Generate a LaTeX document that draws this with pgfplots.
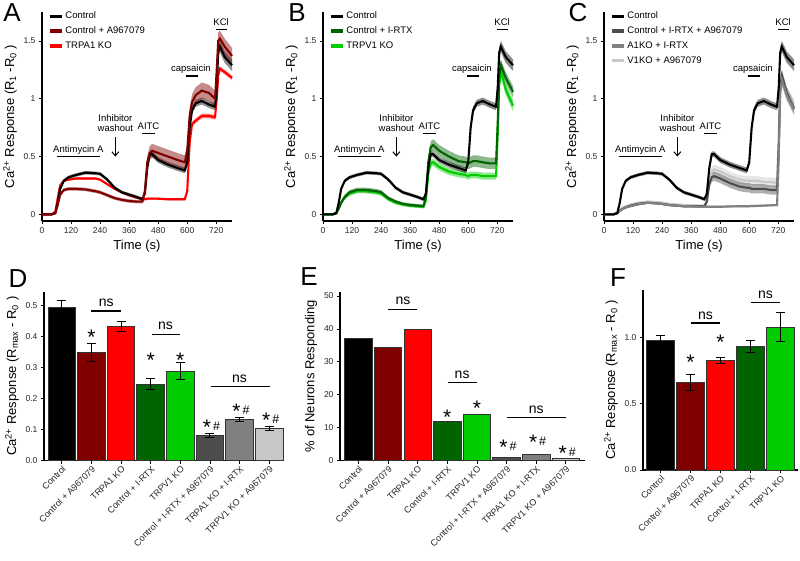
\documentclass[border=0pt]{standalone}
\usepackage{fontspec}
\setmainfont{Liberation Sans}
\usepackage{pgfplots}
\usepackage{pgfplotstable}
\pgfplotsset{compat=1.18}
\usepgfplotslibrary{fillbetween}
\usetikzlibrary{arrows.meta}

\definecolor{maroon}{RGB}{128,0,0}
\definecolor{dkgreen}{RGB}{0,100,0}
\definecolor{ltgreen}{RGB}{0,204,0}
\definecolor{gA}{RGB}{77,77,77}
\definecolor{gB}{RGB}{128,128,128}
\definecolor{gC}{RGB}{200,200,200}

\newcommand{\fs}[1]{\fontsize{#1}{#1}\selectfont}
\newcommand{\st}{{\fs{21}*}}
\newcommand{\sh}{{\fs{21}*\hspace{2pt}\raisebox{4pt}{\fs{12.5}\#}}}

% control trace (shared by A, B, C): mean and sem
\pgfplotstableread{
t c ce
0 0.00 0.01
40 0.00 0.01
55 0.01 0.01
65 0.10 0.01
75 0.22 0.015
90 0.29 0.015
110 0.32 0.015
140 0.34 0.015
180 0.36 0.015
220 0.355 0.015
240 0.35 0.015
270 0.30 0.015
300 0.23 0.015
330 0.19 0.015
360 0.17 0.015
390 0.15 0.015
415 0.13 0.015
425 0.18 0.015
435 0.40 0.02
445 0.52 0.025
455 0.52 0.025
480 0.47 0.025
520 0.43 0.025
560 0.40 0.025
590 0.38 0.025
600 0.45 0.025
610 0.75 0.03
620 0.90 0.03
635 0.96 0.03
660 0.98 0.03
690 0.95 0.03
715 0.93 0.03
722 1.10 0.04
728 1.40 0.05
735 1.45 0.05
755 1.36 0.05
785 1.29 0.05
}\ctrl

% panel A: Control + A967079 (a), TRPA1 KO (k)
\pgfplotstableread{
t a ae k ke
0 0.00 0.01 0.00 0.01
40 0.00 0.01 0.00 0.01
55 0.01 0.01 0.02 0.01
65 0.08 0.01 0.14 0.01
75 0.17 0.015 0.25 0.01
90 0.21 0.015 0.29 0.01
110 0.22 0.015 0.30 0.01
140 0.22 0.015 0.31 0.01
180 0.215 0.015 0.31 0.01
220 0.20 0.015 0.31 0.01
240 0.19 0.015 0.30 0.01
270 0.165 0.015 0.26 0.01
300 0.14 0.015 0.22 0.01
330 0.125 0.015 0.19 0.01
360 0.115 0.015 0.165 0.01
390 0.11 0.015 0.145 0.01
415 0.11 0.015 0.135 0.01
425 0.20 0.03 0.13 0.01
435 0.45 0.05 0.135 0.01
445 0.53 0.06 0.135 0.01
455 0.55 0.06 0.135 0.01
480 0.53 0.06 0.135 0.01
520 0.50 0.06 0.13 0.01
560 0.47 0.06 0.13 0.01
590 0.45 0.06 0.13 0.01
600 0.55 0.06 0.20 0.01
610 0.85 0.07 0.62 0.02
620 0.97 0.07 0.78 0.02
635 1.03 0.07 0.81 0.02
660 1.07 0.07 0.85 0.02
690 1.05 0.07 0.85 0.02
715 1.00 0.07 0.84 0.02
722 1.25 0.07 1.00 0.02
728 1.50 0.07 1.20 0.02
735 1.52 0.07 1.26 0.02
755 1.45 0.07 1.23 0.02
785 1.37 0.07 1.18 0.02
}\tabA

% panel B: Control + I-RTX (g), TRPV1 KO (v)
\pgfplotstableread{
t g ge v ve
0 0.00 0.01 0.00 0.01
40 0.00 0.01 0.00 0.01
55 0.01 0.01 0.01 0.01
65 0.05 0.01 0.05 0.01
75 0.10 0.015 0.10 0.015
90 0.15 0.02 0.15 0.02
110 0.19 0.02 0.18 0.02
140 0.21 0.02 0.20 0.02
180 0.21 0.02 0.20 0.02
220 0.20 0.02 0.19 0.02
240 0.19 0.02 0.18 0.02
270 0.14 0.015 0.13 0.015
300 0.11 0.015 0.10 0.015
330 0.09 0.015 0.085 0.015
360 0.08 0.015 0.075 0.015
390 0.075 0.015 0.07 0.015
415 0.07 0.015 0.065 0.015
425 0.15 0.03 0.12 0.02
435 0.45 0.05 0.35 0.03
445 0.58 0.05 0.44 0.03
455 0.60 0.05 0.45 0.03
480 0.55 0.05 0.41 0.03
520 0.50 0.05 0.37 0.03
560 0.46 0.05 0.35 0.03
590 0.45 0.05 0.34 0.03
600 0.44 0.05 0.33 0.03
610 0.45 0.05 0.34 0.03
620 0.46 0.05 0.34 0.03
635 0.46 0.05 0.34 0.03
660 0.45 0.05 0.33 0.03
690 0.44 0.05 0.33 0.03
715 0.44 0.05 0.33 0.03
722 0.80 0.05 0.70 0.04
728 1.20 0.05 1.12 0.05
735 1.29 0.05 1.24 0.05
755 1.18 0.05 1.08 0.05
785 1.06 0.05 0.94 0.05
}\tabB

% panel C: Control + I-RTX + A967079 (x), A1KO + I-RTX (y), V1KO + A967079 (z)
\pgfplotstableread{
t x xe y ye z ze
0 0.00 0.01 0.00 0.01 0.00 0.01
40 0.00 0.01 0.00 0.01 0.00 0.01
55 0.01 0.01 0.01 0.01 0.01 0.01
65 0.03 0.01 0.03 0.01 0.04 0.01
75 0.045 0.01 0.045 0.01 0.055 0.01
90 0.06 0.01 0.06 0.01 0.07 0.01
110 0.075 0.01 0.07 0.01 0.085 0.01
140 0.09 0.01 0.085 0.01 0.10 0.01
180 0.10 0.01 0.10 0.01 0.11 0.01
220 0.095 0.01 0.095 0.01 0.105 0.01
240 0.09 0.01 0.09 0.01 0.10 0.01
270 0.08 0.01 0.08 0.01 0.09 0.01
300 0.075 0.01 0.075 0.01 0.085 0.01
330 0.07 0.01 0.07 0.01 0.08 0.01
360 0.07 0.01 0.07 0.01 0.08 0.01
390 0.07 0.01 0.065 0.01 0.075 0.01
415 0.07 0.01 0.065 0.01 0.075 0.01
425 0.11 0.02 0.065 0.01 0.12 0.02
435 0.26 0.04 0.065 0.01 0.30 0.04
445 0.32 0.04 0.065 0.01 0.37 0.04
455 0.33 0.04 0.065 0.01 0.39 0.04
480 0.31 0.04 0.065 0.01 0.37 0.04
520 0.27 0.04 0.068 0.01 0.33 0.04
560 0.24 0.04 0.07 0.01 0.30 0.04
590 0.23 0.04 0.07 0.01 0.29 0.04
600 0.23 0.04 0.07 0.01 0.29 0.04
610 0.22 0.04 0.072 0.01 0.29 0.04
620 0.22 0.04 0.072 0.01 0.29 0.04
635 0.22 0.04 0.073 0.01 0.29 0.04
660 0.22 0.04 0.075 0.01 0.28 0.04
690 0.21 0.04 0.078 0.01 0.28 0.04
715 0.21 0.04 0.08 0.01 0.27 0.04
722 0.60 0.05 0.50 0.05 0.65 0.05
728 1.10 0.05 1.05 0.05 1.12 0.05
735 1.20 0.05 1.16 0.05 1.18 0.05
755 1.05 0.05 1.03 0.05 1.05 0.05
785 0.92 0.05 0.91 0.05 0.95 0.05
}\tabC

% mean line with shaded sem band
\newcommand{\trace}[5]{%
  \addplot[draw=none, name path=#5u, forget plot] table[x=t, y expr=\thisrow{#2}+\thisrow{#3}] {#1};
  \addplot[draw=none, name path=#5l, forget plot] table[x=t, y expr=\thisrow{#2}-\thisrow{#3}] {#1};
  \addplot[fill=#4, fill opacity=0.45, draw=none, forget plot] fill between[of=#5u and #5l];
  \addplot[#4, line width=2.1pt, forget plot] table[x=t, y=#2] {#1};
}

% stimulus marks above the traces
\newcommand{\stims}{%
  \draw[line width=1.1pt] (axis cs:60,0.5) -- (axis cs:240,0.5);
  \node[font=\fs{9.5}] at (axis cs:150,0.555) {Antimycin A};
  \node[font=\fontsize{9.5}{10}\selectfont, align=center] at (axis cs:303,0.79) {Inhibitor\\washout};
  \draw[line width=1pt, -{Straight Barb[length=4pt, width=7pt]}] (axis cs:303,0.67) -- (axis cs:303,0.5);
  \draw[line width=1.1pt] (axis cs:415,0.70) -- (axis cs:465,0.70);
  \node[font=\fs{9.5}] at (axis cs:440,0.76) {AITC};
  \draw[line width=1.1pt] (axis cs:595,1.196) -- (axis cs:645,1.196);
  \node[font=\fs{9.5}] at (axis cs:615,1.255) {capsaicin};
  \draw[line width=1.1pt] (axis cs:720,1.60) -- (axis cs:763,1.60);
  \node[font=\fs{9.5}] at (axis cs:740,1.665) {KCl};
}

\pgfplotsset{
  base/.style={
    scale only axis,
    axis x line*=bottom, axis y line*=left,
    axis line style={-, line width=1.2pt},
    tick align=outside, major tick length=3pt,
    tick style={line width=0.8pt, black},
    label style={font=\fs{13}},
    clip=false,
    /pgf/number format/assume math mode=true,
  },
  trace/.style={
    base, width=190pt, height=209pt,
    xmin=0, xmax=785, ymin=-0.058, ymax=1.75,
    xtick={0,120,...,720}, ytick={0,0.5,1,1.5},
    ticklabel style={font=\fs{8.5}, text=black!85},
    xlabel={Time (s)},
    ylabel={Ca\textsuperscript{2+} Response (R\textsubscript{1} -R\textsubscript{0} )},
    legend style={draw=none, fill=none, at={(0.03,1.01)}, anchor=north west,
      font=\fs{9.5}, row sep=2.5pt, inner sep=0pt},
    legend cell align=left,
    legend image code/.code={\draw[##1, line width=3.5pt] (0pt,0pt) -- (12pt,0pt);},
  },
  barax/.style={
    base, ymin=0,
    xticklabel style={rotate=45, anchor=north east, font=\fs{9}, inner sep=1pt, text=black!85},
    yticklabel style={font=\fs{8.5}, text=black!85},
  },
  mybar/.style={ybar, bar width=0.93, bar shift=0pt, draw=black!80, line width=0.8pt, fill=#1},
  myerr/.style={error bars/.cd, y dir=both, y explicit,
    error bar style={line width=1pt, black},
    error mark options={rotate=90, mark size=4.5pt, line width=1pt, black}},
}

\begin{document}
\begin{tikzpicture}

% ---------------- A
\begin{axis}[trace, at={(42pt,-221pt)}, anchor=south west]
\addlegendimage{black}\addlegendentry{Control}
\addlegendimage{maroon}\addlegendentry{Control + A967079}
\addlegendimage{red}\addlegendentry{TRPA1 KO}
\trace{\tabA}{k}{ke}{red}{ak}
\trace{\ctrl}{c}{ce}{black}{ac}
\trace{\tabA}{a}{ae}{maroon}{aa}
\stims
\end{axis}

% ---------------- B
\begin{axis}[trace, at={(323pt,-221pt)}, anchor=south west]
\addlegendimage{black}\addlegendentry{Control}
\addlegendimage{dkgreen}\addlegendentry{Control + I-RTX}
\addlegendimage{ltgreen}\addlegendentry{TRPV1 KO}
\trace{\tabB}{v}{ve}{ltgreen}{bv}
\trace{\tabB}{g}{ge}{dkgreen}{bg}
\trace{\ctrl}{c}{ce}{black}{bc}
\stims
\end{axis}

% ---------------- C
\begin{axis}[trace, at={(604pt,-221pt)}, anchor=south west]
\addlegendimage{black}\addlegendentry{Control}
\addlegendimage{gA}\addlegendentry{Control + I-RTX + A967079}
\addlegendimage{gB}\addlegendentry{A1KO + I-RTX}
\addlegendimage{gC}\addlegendentry{V1KO + A967079}
\trace{\tabC}{z}{ze}{gC}{cz}
\trace{\tabC}{x}{xe}{gA}{cx}
\trace{\tabC}{y}{ye}{gB}{cy}
\trace{\ctrl}{c}{ce}{black}{cc}
\stims
\end{axis}

% ---------------- D
\begin{axis}[barax, at={(44pt,-460.7pt)}, anchor=south west,
  width=240pt, height=169pt, xmin=-0.6, xmax=7.5, ymax=0.545,
  ytick={0,0.1,...,0.5},
  yticklabel style={/pgf/number format/.cd, fixed, fixed zerofill, precision=1},
  xtick={0,...,7},
  xticklabels={Control, Control + A967079, TRPA1 KO, Control + I-RTX, TRPV1 KO, Control + I-RTX + A967079, TRPA1 KO + I-RTX, TRPV1 KO + A967079},
  ylabel={Ca\textsuperscript{2+} Response (R\textsubscript{max} - R\textsubscript{0} )}]
\addplot[mybar=black, myerr] coordinates {(0,0.495) +- (0,0.022)};
\addplot[mybar=maroon, myerr] coordinates {(1,0.349) +- (0,0.028)};
\addplot[mybar=red, myerr] coordinates {(2,0.433) +- (0,0.015)};
\addplot[mybar=dkgreen, myerr] coordinates {(3,0.247) +- (0,0.017)};
\addplot[mybar=ltgreen, myerr] coordinates {(4,0.289) +- (0,0.027)};
\addplot[mybar=gA, myerr] coordinates {(5,0.082) +- (0,0.006)};
\addplot[mybar=gB, myerr] coordinates {(6,0.134) +- (0,0.006)};
\addplot[mybar=gC, myerr] coordinates {(7,0.103) +- (0,0.007)};
\draw[line width=1.3pt] (axis cs:1.0,0.483) -- (axis cs:2.0,0.483);
\node[font=\fs{14}] at (axis cs:1.5,0.51) {ns};
\draw[line width=1.3pt] (axis cs:3.05,0.408) -- (axis cs:4.0,0.408);
\node[font=\fs{14}] at (axis cs:3.5,0.435) {ns};
\draw[line width=1.3pt] (axis cs:5.04,0.239) -- (axis cs:7.03,0.239);
\node[font=\fs{14}] at (axis cs:6.0,0.265) {ns};
\node at (axis cs:1,0.397) {\st};
\node at (axis cs:3,0.325) {\st};
\node at (axis cs:4,0.325) {\st};
\node at (axis cs:5.05,0.108) {\sh};
\node at (axis cs:6.05,0.159) {\sh};
\node at (axis cs:7.05,0.129) {\sh};
\end{axis}

% ---------------- E
\begin{axis}[barax, at={(340pt,-460.7pt)}, anchor=south west,
  width=245pt, height=169pt, xmin=-0.625, xmax=7.65, ymax=51.3,
  ytick={0,10,...,50},
  xtick={0,...,7},
  xticklabels={Control, Control + A967079, TRPA1 KO, Control + I-RTX, TRPV1 KO, Control + I-RTX + A967079, TRPA1 KO + I-RTX, TRPV1 KO + A967079},
  ylabel={\% of Neurons Responding}]
\addplot[mybar=black] coordinates {(0,37.2)};
\addplot[mybar=maroon] coordinates {(1,34.4)};
\addplot[mybar=red] coordinates {(2,39.9)};
\addplot[mybar=dkgreen] coordinates {(3,11.9)};
\addplot[mybar=ltgreen] coordinates {(4,14.0)};
\addplot[mybar=gA] coordinates {(5,1.0)};
\addplot[mybar=gB] coordinates {(6,1.8)};
\addplot[mybar=gC] coordinates {(7,0.7)};
\draw[line width=1.3pt] (axis cs:1.0,46.0) -- (axis cs:1.98,46.0);
\node[font=\fs{14}] at (axis cs:1.5,48.4) {ns};
\draw[line width=1.3pt] (axis cs:3.02,23.7) -- (axis cs:4.0,23.7);
\node[font=\fs{14}] at (axis cs:3.5,26.1) {ns};
\draw[line width=1.3pt] (axis cs:5.02,13.2) -- (axis cs:7.0,13.2);
\node[font=\fs{14}] at (axis cs:6.0,15.6) {ns};
\node at (axis cs:3,13.1) {\st};
\node at (axis cs:4,16.0) {\st};
\node at (axis cs:5.05,4.2) {\sh};
\node at (axis cs:6.05,5.7) {\sh};
\node at (axis cs:7.05,2.3) {\sh};
\end{axis}

% ---------------- F
\begin{axis}[barax, at={(643pt,-470pt)}, anchor=south west,
  width=155pt, height=180pt, xmin=-0.583, xmax=4.583, ymax=1.356,
  ytick={0,0.5,1},
  yticklabel style={/pgf/number format/.cd, fixed, fixed zerofill, precision=1},
  xtick={0,...,4},
  xticklabels={Control, Control + A967079, TRPA1 KO, Control + I-RTX, TRPV1 KO},
  ylabel={Ca\textsuperscript{2+} Response (R\textsubscript{max} - R\textsubscript{0} )}]
\addplot[mybar=black, myerr] coordinates {(0,0.975) +- (0,0.04)};
\addplot[mybar=maroon, myerr] coordinates {(1,0.66) +- (0,0.06)};
\addplot[mybar=red, myerr] coordinates {(2,0.824) +- (0,0.025)};
\addplot[mybar=dkgreen, myerr] coordinates {(3,0.93) +- (0,0.048)};
\addplot[mybar=ltgreen, myerr] coordinates {(4,1.075) +- (0,0.11)};
\draw[line width=1.3pt] (axis cs:1.01,1.108) -- (axis cs:1.98,1.108);
\node[font=\fs{14}] at (axis cs:1.5,1.165) {ns};
\draw[line width=1.3pt] (axis cs:3.0,1.26) -- (axis cs:3.98,1.26);
\node[font=\fs{14}] at (axis cs:3.5,1.318) {ns};
\node at (axis cs:1,0.81) {\st};
\node at (axis cs:2,0.96) {\st};
\end{axis}

% panel letters
\node[font=\fs{26}] at (12pt,-13pt) {A};
\node[font=\fs{26}] at (297pt,-13pt) {B};
\node[font=\fs{26}] at (578pt,-13pt) {C};
\node[font=\fs{26}] at (18pt,-279pt) {D};
\node[font=\fs{26}] at (309pt,-277pt) {E};
\node[font=\fs{26}] at (618pt,-278pt) {F};

% fix the page to the 800 x 560 frame
\pgfresetboundingbox
\path[use as bounding box] (0,0) rectangle (800pt,-560pt);
\end{tikzpicture}
\end{document}
